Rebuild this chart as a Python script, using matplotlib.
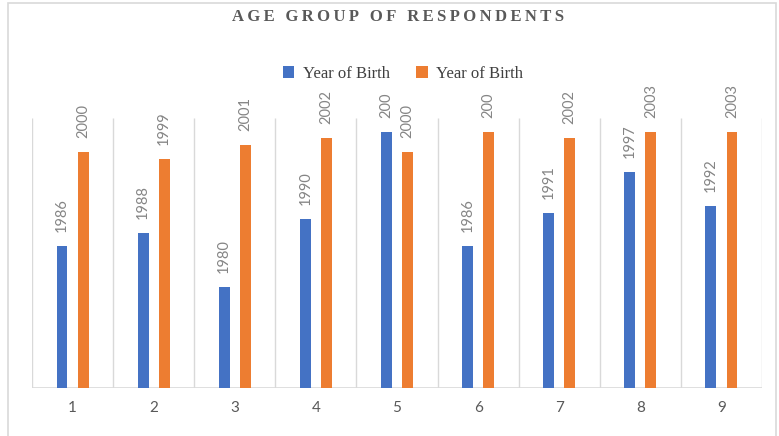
import numpy as np
import matplotlib
matplotlib.use('Agg')
from matplotlib import pyplot as plt
from matplotlib.patches import Rectangle

groups = ['1', '2', '3', '4', '5', '6', '7', '8', '9']
birth_a = [1986, 1988, 1980, 1990, 2003, 1986, 1991, 1997, 1992]
birth_b = [2000, 1999, 2001, 2002, 2000, 2003, 2002, 2003, 2003]
labels_a = ['1986', '1988', '1980', '1990', '200', '1986', '1991', '1997', '1992']
labels_b = ['2000', '1999', '2001', '2002', '2000', '200', '2002', '2003', '2003']

blue = '#4472c4'
orange = '#ed7d31'
grid = '#d9d9d9'

fig = plt.figure(figsize=(7.79, 4.36), dpi=100)
ax = fig.add_axes([32/779, 1-388/436, 730/779, 270/436])

x = np.arange(1, len(groups) + 1)
w = 0.135
ax.bar(x - 0.13, birth_a, w, color=blue, label='Year of Birth', zorder=3)
ax.bar(x + 0.13, birth_b, w, color=orange, label='Year of Birth', zorder=3)

ax.set_ylim(1965, 2005)
ax.set_xlim(0.5, len(groups) + 0.5)

# data labels, rotated like excel
for xi, v, t in zip(x - 0.13, birth_a, labels_a):
    ax.annotate(t, (xi, v), xytext=(0, 10), textcoords='offset points', rotation=90,
                ha='center', va='bottom', fontsize=10.5, color='#858585', family='Lato',
                annotation_clip=False)
for xi, v, t in zip(x + 0.13, birth_b, labels_b):
    ax.annotate(t, (xi, v), xytext=(0, 10), textcoords='offset points', rotation=90,
                ha='center', va='bottom', fontsize=10.5, color='#858585', family='Lato',
                annotation_clip=False)

# category separators
ax.vlines(np.arange(0.5, len(groups) + 1), 1965, 2005, color=grid, lw=1, zorder=1)
ax.axhline(1965, color=grid, lw=1.2, zorder=2)

for s in ax.spines.values():
    s.set_visible(False)
ax.set_yticks([])
ax.set_xticks(x)
ax.set_xticklabels(groups, fontsize=11, color='#595959', family='Lato')
ax.tick_params(axis='x', length=0, pad=9)

title = '\u2009'.join('AGE GROUP OF RESPONDENTS')
fig.text(398/779, 1-17/436, title, ha='center', va='center', fontsize=12,
         fontweight='bold', color='#595959', family=['Liberation Serif', 'DejaVu Serif'])

leg = fig.legend(loc='center', bbox_to_anchor=(403/779, 1-74/436), ncol=2, frameon=False,
                 prop={'family': 'Liberation Serif', 'size': 12}, handlelength=0.7,
                 handleheight=0.7, handletextpad=0.5, columnspacing=1.6)
for t in leg.get_texts():
    t.set_color('#404040')

# chart border
fig.patches.append(Rectangle((8/779, -0.05), 768/779, 1 - 3/436 + 0.05, transform=fig.transFigure,
                             fill=False, edgecolor=grid, lw=1.2))

fig.savefig('out.png', dpi=100)
